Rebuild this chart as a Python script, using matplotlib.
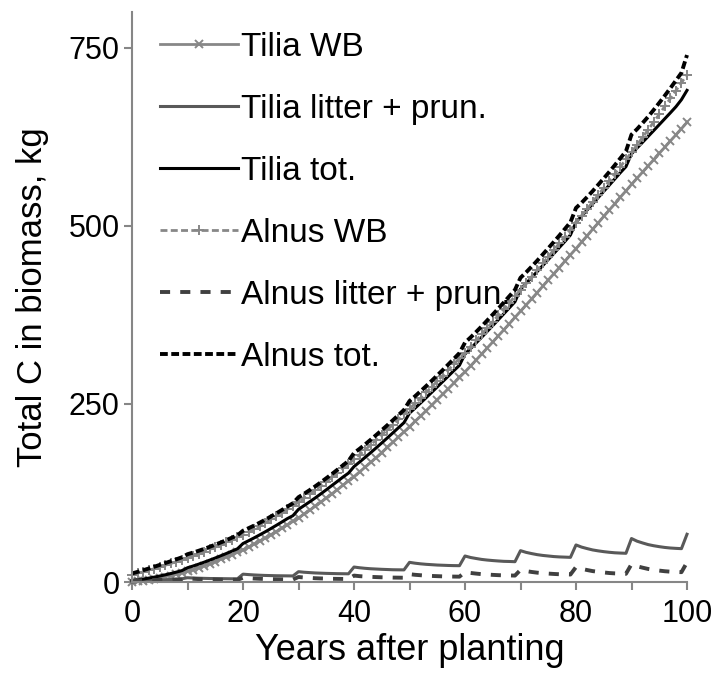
import numpy as np
import matplotlib
matplotlib.use("Agg")
import matplotlib.pyplot as plt

plt.rcParams['font.family'] = ['Liberation Sans', 'DejaVu Sans']

# Datos: años después de la plantación y C total (kg) por serie
years = list(range(0, 101))

tilia_wb = [0, 0.8, 1.8, 3, 4.3, 5.8, 7.4, 9.1, 11, 13,
            15, 17.4, 20, 22.8, 25.7, 28.7, 31.8, 35, 38.3, 41.6,
            45, 49, 53.1, 57.3, 61.7, 66.2, 70.8, 75.5, 80.3, 85.1,
            90, 95.3, 100.7, 106.2, 111.9, 117.7, 123.6, 129.6, 135.7, 141.8,
            148, 154.5, 161.1, 167.8, 174.7, 181.7, 188.8, 196, 203.3, 210.6,
            218, 225.4, 232.9, 240.5, 248.2, 255.9, 263.6, 271.4, 279.2, 287.1,
            295, 303.2, 311.5, 319.9, 328.4, 336.9, 345.4, 354, 362.6, 371.3,
            380, 388.7, 397.4, 406.2, 415, 423.8, 432.6, 441.4, 450.2, 459.1,
            468, 477, 486, 495, 504, 513, 522, 531, 540, 549,
            558, 566.7, 575.4, 584.1, 592.8, 601.5, 610.2, 618.9, 627.6, 636.3,
            645]

tilia_litter = [0, 0.5, 1, 1.5, 2, 2.5, 3, 3.5, 4, 4.5,
                6, 5.6, 5.3, 5.1, 4.9, 4.8, 4.7, 4.6, 4.5, 4.5,
                11, 10.4, 9.9, 9.5, 9.2, 9, 8.8, 8.7, 8.6, 8.5,
                14.5, 13.7, 13.2, 12.7, 12.4, 12.1, 11.9, 11.7, 11.6, 11.5,
                21, 20, 19.2, 18.6, 18.2, 17.8, 17.5, 17.2, 17.1, 17,
                27.6, 26.4, 25.5, 24.8, 24.3, 23.8, 23.5, 23.2, 23, 22.9,
                36.5, 34.4, 33, 31.7, 30.8, 30.1, 29.5, 29, 28.8, 28.5,
                44, 41.6, 39.9, 38.4, 37.3, 36.5, 35.7, 35.2, 34.9, 34.6,
                52, 49, 46.9, 45, 43.7, 42.6, 41.7, 41, 40.6, 40.3,
                61, 57.3, 54.8, 52.5, 50.9, 49.6, 48.5, 47.7, 47.2, 46.8,
                67]

tilia_tot = [2, 3, 4.1, 5.4, 6.8, 8.4, 10.1, 11.9, 13.9, 16,
             20, 22.4, 25, 27.8, 30.7, 33.7, 36.8, 40, 43.3, 46.6,
             54, 57.9, 61.9, 66.1, 70.4, 74.9, 79.5, 84.2, 89, 93.1,
             102, 107.2, 112.5, 117.9, 123.6, 129.4, 135.3, 141.2, 147.2, 152.8,
             162, 168.4, 174.9, 181.5, 188.3, 195.2, 202.2, 209.3, 216.5, 223.6,
             237, 244, 251.3, 258.7, 266.2, 273.8, 281.4, 289, 296.7, 304.1,
             320, 327.6, 335.5, 343.5, 351.7, 359.9, 368.1, 376.5, 384.9, 393.3,
             411, 419.1, 427.3, 435.6, 444, 452.5, 461, 469.5, 478, 487.1,
             505, 513.5, 522.1, 530.8, 539.5, 548.3, 557, 565.8, 574.6, 583,
             601, 609.1, 617.2, 625.4, 633.6, 641.9, 650.2, 658.5, 667, 677,
             690]

alnus_wb = [10, 12, 14.1, 16.3, 18.6, 21, 23.5, 26, 28.6, 31.3,
            34, 36.8, 39.7, 42.7, 45.8, 49, 52.3, 55.7, 59.1, 62.5,
            66, 70.1, 74.3, 78.7, 83.2, 87.8, 92.5, 97.3, 102.2, 107.1,
            112, 117.5, 123.1, 128.9, 134.8, 140.8, 146.9, 153.1, 159.4, 165.7,
            172, 178.7, 185.5, 192.4, 199.4, 206.5, 213.6, 220.8, 228.1, 235.5,
            243, 250.6, 258.3, 266.1, 273.9, 281.8, 289.7, 297.7, 305.7, 313.8,
            322, 330.5, 339.1, 347.8, 356.6, 365.4, 374.2, 383.1, 392, 401,
            410, 419.2, 428.5, 437.8, 447.2, 456.6, 466, 475.4, 484.9, 494.4,
            504, 513.7, 523.5, 533.3, 543.2, 553.1, 563, 573, 583, 593,
            603, 613.5, 624.1, 634.8, 645.6, 656.5, 667.5, 678.6, 689.7, 700.8,
            712]

alnus_litter = [2, 2.2, 2.4, 2.6, 2.8, 3, 3.1, 3.2, 3.3, 3.4,
                5, 4.5, 4.1, 3.8, 3.6, 3.4, 3.2, 3.1, 3.1, 3,
                6, 5.4, 4.9, 4.5, 4.2, 4, 3.8, 3.7, 3.6, 3.5,
                7, 6.3, 5.8, 5.3, 5, 4.8, 4.5, 4.4, 4.3, 4.2,
                9, 8.2, 7.7, 7.2, 6.9, 6.6, 6.4, 6.2, 6.1, 6,
                11, 10.1, 9.5, 8.9, 8.5, 8.2, 7.9, 7.7, 7.6, 7.5,
                14, 12.7, 11.8, 11, 10.5, 10, 9.6, 9.3, 9.2, 9,
                17, 15.3, 14.1, 13.1, 12.4, 11.8, 11.3, 10.9, 10.7, 10.5,
                21, 18.5, 16.8, 15.3, 14.3, 13.4, 12.6, 12.1, 11.8, 11.5,
                25, 22.1, 20.1, 18.3, 17, 16, 15.1, 14.5, 14.1, 13.8,
                27.6]

alnus_tot = [12, 14.2, 16.5, 18.9, 21.4, 24, 26.6, 29.2, 31.9, 34.7,
             39, 41.3, 43.8, 46.5, 49.4, 52.4, 55.5, 58.8, 62.2, 65.5,
             72, 75.5, 79.2, 83.2, 87.4, 91.8, 96.3, 101, 105.8, 110.6,
             119, 123.8, 128.9, 134.2, 139.8, 145.6, 151.4, 157.5, 163.7, 169.9,
             181, 186.9, 193.2, 199.6, 206.3, 213.1, 220, 227, 234.2, 241.5,
             254, 260.7, 267.8, 275, 282.4, 290, 297.6, 305.4, 313.3, 321.3,
             336, 343.2, 350.9, 358.8, 367.1, 375.4, 383.8, 392.4, 401.2, 410,
             427, 434.5, 442.6, 450.9, 459.6, 468.4, 477.3, 486.3, 495.6, 504.9,
             525, 532.2, 540.3, 548.6, 557.5, 566.5, 575.6, 585.1, 594.8, 604.5,
             628, 635.6, 644.2, 653.1, 662.6, 672.5, 682.6, 693.1, 703.8, 714.6,
             739.6]

fig = plt.figure(figsize=(7.21, 6.82), dpi=100)
ax = fig.add_axes([132 / 721, 100 / 682, 555 / 721, 570 / 682])

gris = '#878787'
ax.plot(years, tilia_wb, color=gris, lw=2, marker='x', ms=6, mew=1.4,
        label='Tilia WB', clip_on=False)
ax.plot(years, tilia_litter, color='#595959', lw=2.2, label='Tilia litter + prun.',
        clip_on=False)
ax.plot(years, tilia_tot, color='black', lw=2.2, label='Tilia tot.', clip_on=False)
ax.plot(years, alnus_wb, color=gris, lw=2, dashes=(2.5, 1.2), marker='+', ms=7.5,
        mew=1.4, label='Alnus WB', clip_on=False)
ax.plot(years, alnus_litter, color='#404040', lw=2.8, dashes=(2.6, 2.6),
        label='Alnus litter + prun.', clip_on=False)
ax.plot(years, alnus_tot, color='black', lw=2.8, dashes=(2, 0.9),
        label='Alnus tot.', clip_on=False)

ax.set_xlim(0, 100)
ax.set_ylim(0, 800)
ax.set_xticks(range(0, 101, 10))
ax.set_xticklabels([str(v) if v % 20 == 0 else '' for v in range(0, 101, 10)])
ax.set_yticks([0, 250, 500, 750])

for s in ['top', 'right']:
    ax.spines[s].set_visible(False)
for s in ['left', 'bottom']:
    ax.spines[s].set_color('#868686')
    ax.spines[s].set_linewidth(1.5)
ax.tick_params(axis='both', colors='#868686', labelcolor='black', labelsize=22,
               length=6, width=1.5, direction='out')
ax.tick_params(axis='y', pad=3)
ax.tick_params(axis='x', pad=6)

ax.set_xlabel('Years after planting', fontsize=26, labelpad=3)
ax.set_ylabel('Total C in biomass, kg', fontsize=25, labelpad=14)

ax.legend(loc='upper left', bbox_to_anchor=(160 / 721, 1 - 32 / 682),
          bbox_transform=fig.transFigure, frameon=False, fontsize=24,
          handlelength=2.34, handletextpad=0.1, labelspacing=0.93, numpoints=1,
          borderpad=0, borderaxespad=0)

plt.savefig('out.png', dpi=100)
